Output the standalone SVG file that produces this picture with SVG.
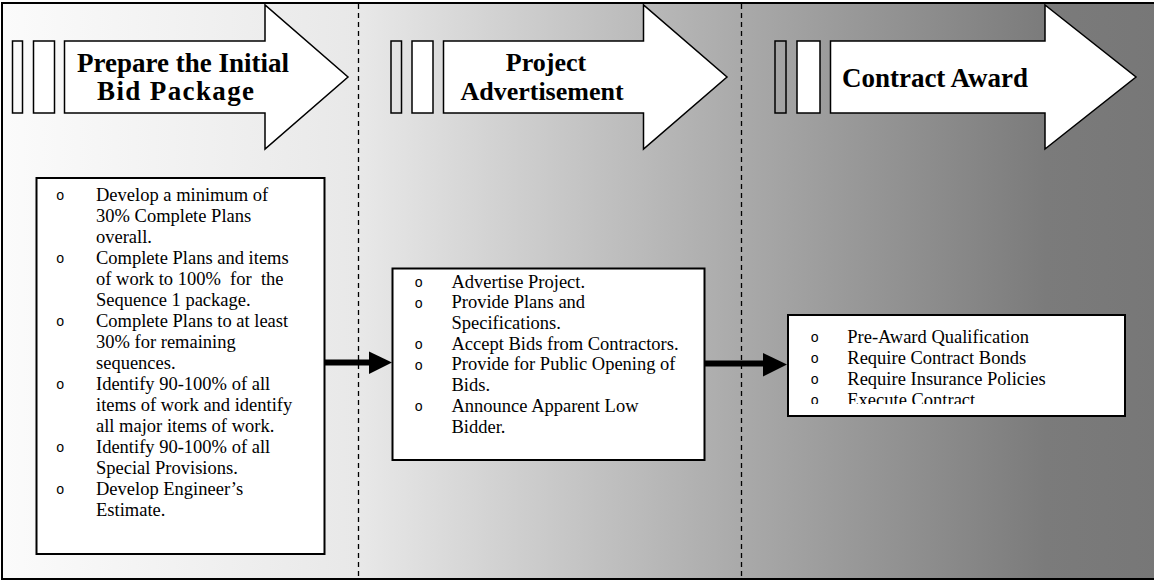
<svg xmlns="http://www.w3.org/2000/svg" width="1154" height="581" viewBox="0 0 1154 581">
  <defs>
    <linearGradient id="bg" x1="0" y1="0" x2="1" y2="0">
      <stop offset="0" stop-color="#fbfbfb"/>
      <stop offset="0.31" stop-color="#e8e8e8"/>
      <stop offset="0.64" stop-color="#a9a9a9"/>
      <stop offset="0.9" stop-color="#7b7b7b"/>
      <stop offset="1" stop-color="#777777"/>
    </linearGradient>
    <clipPath id="clip3">
      <rect x="789" y="316" width="335" height="88"/>
    </clipPath>
    <style>
      .frame { fill: url(#bg); stroke: #000; stroke-width: 2; }
      .divider { stroke: #000; stroke-width: 1.3; stroke-dasharray: 5 4; fill: none; }
      .bar { fill: none; stroke: #000; stroke-width: 1.5; }
      .bar2 { fill: #fff; stroke: #000; stroke-width: 1.5; }
      .arrow { fill: #fff; stroke: #000; stroke-width: 1.5; stroke-linejoin: miter; }
      .title { font-family: "Liberation Serif", "Times New Roman", serif; font-weight: bold; font-size: 27px; fill: #000; text-anchor: middle; }
      .title.small { font-size: 26px; }
      .box { fill: #fff; stroke: #000; stroke-width: 2; }
      .item { font-family: "Liberation Serif", "Times New Roman", serif; font-size: 18.5px; fill: #000; white-space: pre; }
      .dot { font-family: "Liberation Mono", "Courier New", monospace; font-size: 14px; fill: #000; }
      .link { stroke: #000; stroke-width: 6; fill: none; }
    </style>
  </defs>

  <!-- background frame and phase dividers -->
  <rect class="frame" x="2" y="3" width="1160" height="576"/>
  <line class="divider" x1="358.5" y1="4" x2="358.5" y2="579"/>
  <line class="divider" x1="741.5" y1="4" x2="741.5" y2="579"/>

  <!-- phase 1 header -->
  <g id="phase-prepare">
    <rect class="bar" x="12.5" y="41" width="10" height="72"/>
    <rect class="bar2" x="33.5" y="41" width="21" height="72"/>
    <path class="arrow" d="M64.5,41 H265 V5 L348,77 L265,149 V113 H64.5 Z"/>
    <text class="title" x="183" y="72">Prepare the Initial</text>
    <text class="title" x="175.5" y="100" textLength="157">Bid Package</text>
  </g>

  <!-- phase 2 header -->
  <g id="phase-advertise">
    <rect class="bar" x="391" y="41" width="10.5" height="72"/>
    <rect class="bar2" x="412" y="41" width="21" height="72"/>
    <path class="arrow" d="M443.5,41 H643.5 V5 L727,77 L643.5,149 V113 H443.5 Z"/>
    <text class="title small" x="546" y="71">Project</text>
    <text class="title small" x="542" y="100">Advertisement</text>
  </g>

  <!-- phase 3 header -->
  <g id="phase-award">
    <rect class="bar" x="775" y="41" width="11" height="72"/>
    <rect class="bar2" x="797" y="41" width="23" height="72"/>
    <path class="arrow" d="M830.5,41 H1045 V5 L1136,77 L1045,149 V113 H830.5 Z"/>
    <text class="title" x="935" y="87">Contract Award</text>
  </g>

  <!-- phase 1 task list -->
  <g id="tasks-prepare">
    <rect class="box" x="36.5" y="178" width="288" height="376"/>
    <text class="dot" x="56" y="200">o</text>
    <text class="item" x="96" y="201">Develop a minimum of</text>
    <text class="item" x="96" y="222">30% Complete Plans</text>
    <text class="item" x="96" y="243">overall.</text>
    <text class="dot" x="56" y="263">o</text>
    <text class="item" x="96" y="264">Complete Plans and items</text>
    <text class="item" x="96" y="285">of work to 100%  for  the</text>
    <text class="item" x="96" y="306">Sequence 1 package.</text>
    <text class="dot" x="56" y="326">o</text>
    <text class="item" x="96" y="327">Complete Plans to at least</text>
    <text class="item" x="96" y="348">30% for remaining</text>
    <text class="item" x="96" y="369">sequences.</text>
    <text class="dot" x="56" y="389">o</text>
    <text class="item" x="96" y="390">Identify 90-100% of all</text>
    <text class="item" x="96" y="411">items of work and identify</text>
    <text class="item" x="96" y="432">all major items of work.</text>
    <text class="dot" x="56" y="452">o</text>
    <text class="item" x="96" y="453">Identify 90-100% of all</text>
    <text class="item" x="96" y="474">Special Provisions.</text>
    <text class="dot" x="56" y="494">o</text>
    <text class="item" x="96" y="495">Develop Engineer’s</text>
    <text class="item" x="96" y="516">Estimate.</text>
  </g>

  <!-- phase 2 task list -->
  <g id="tasks-advertise">
    <rect class="box" x="392.5" y="268.5" width="312" height="191.5"/>
    <text class="dot" x="414.5" y="287">o</text>
    <text class="item" x="451.5" y="287.5">Advertise Project.</text>
    <text class="dot" x="414.5" y="308">o</text>
    <text class="item" x="451.5" y="308.3">Provide Plans and</text>
    <text class="item" x="451.5" y="329">Specifications.</text>
    <text class="dot" x="414.5" y="349">o</text>
    <text class="item" x="451.5" y="349.5">Accept Bids from Contractors.</text>
    <text class="dot" x="414.5" y="370">o</text>
    <text class="item" x="451.5" y="370.3">Provide for Public Opening of</text>
    <text class="item" x="451.5" y="391.3">Bids.</text>
    <text class="dot" x="414.5" y="411">o</text>
    <text class="item" x="451.5" y="411.7">Announce Apparent Low</text>
    <text class="item" x="451.5" y="432.7">Bidder.</text>
  </g>

  <!-- phase 3 task list (text frame cuts off the last line) -->
  <g id="tasks-award">
    <rect class="box" x="788" y="315" width="337" height="101"/>
    <g clip-path="url(#clip3)">
      <text class="dot" x="810.5" y="342">o</text>
      <text class="item" x="847.3" y="342.7">Pre-Award Qualification</text>
      <text class="dot" x="810.5" y="363">o</text>
      <text class="item" x="847.3" y="363.8">Require Contract Bonds</text>
      <text class="dot" x="810.5" y="384">o</text>
      <text class="item" x="847.3" y="384.9">Require Insurance Policies</text>
      <text class="dot" x="810.5" y="405">o</text>
      <text class="item" x="847.3" y="406">Execute Contract</text>
    </g>
  </g>

  <!-- connectors between task lists -->
  <g id="connectors">
    <line class="link" x1="325" y1="362.5" x2="370" y2="362.5"/>
    <path d="M369,351.5 L392,362.5 L369,374 Z" fill="#000"/>
    <line class="link" x1="705" y1="363.5" x2="764" y2="363.5"/>
    <path d="M763,353 L787,364.5 L763,376.5 Z" fill="#000"/>
  </g>
</svg>
